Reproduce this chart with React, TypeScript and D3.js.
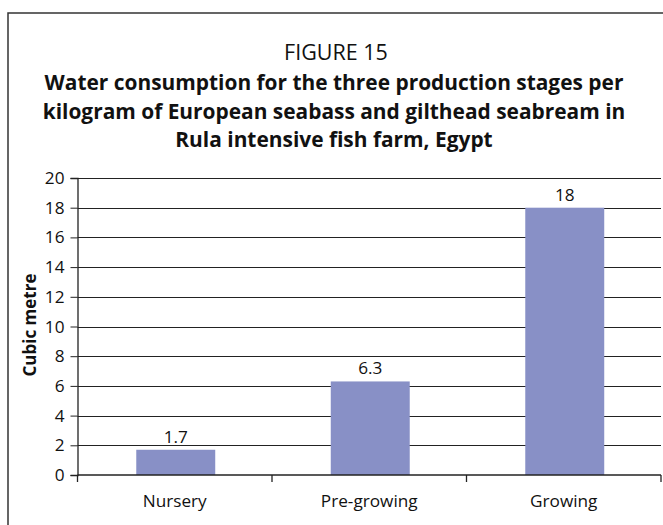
import React, { useEffect, useRef } from "react";
import * as d3 from "d3";

const categories = ["Nursery", "Pre-growing", "Growing"];
const values = [1.7, 6.3, 18];
const valueLabels = ["1.7", "6.3", "18"];
const yTicks = [0, 2, 4, 6, 8, 10, 12, 14, 16, 18, 20];
const titleLines = [
  "Water consumption for the three production stages per",
  "kilogram of European seabass and gilthead seabream in",
  "Rula intensive fish farm, Egypt",
];

const W = 663;
const H = 525;
const FONT = "'Open Sans', 'Noto Sans', sans-serif";
const plot = { left: 77.5, right: 661, top: 178, bottom: 475 };
const LBL = 17.2;

export default function App() {
  const xAxisRef = useRef<SVGGElement>(null);
  const yAxisRef = useRef<SVGGElement>(null);

  const x = d3.scaleBand<string>().domain(categories).range([plot.left, plot.right]).padding(0);
  const y = d3.scaleLinear().domain([0, 20]).range([plot.bottom, plot.top]);
  const barW = x.bandwidth() * 0.406;

  useEffect(() => {
    if (yAxisRef.current) {
      const g = d3.select(yAxisRef.current);
      g.selectAll("*").remove();
      g.call(d3.axisLeft(y).tickValues(yTicks).tickSize(7).tickPadding(6).tickFormat(d3.format("d")) as any);
      g.select(".domain").attr("stroke", "#222").attr("stroke-width", 1.3);
      g.selectAll(".tick line").attr("stroke", "#222");
      g.selectAll(".tick text")
        .attr("font-family", FONT)
        .attr("font-size", LBL)
        .attr("fill", "#111");
    }
    if (xAxisRef.current) {
      const g = d3.select(xAxisRef.current);
      g.selectAll("*").remove();
      g.call(d3.axisBottom(x).tickSize(0).tickPadding(0) as any);
      g.select(".domain").remove();
      g.selectAll(".tick text").remove();
      const bounds = [plot.left, ...categories.map((c) => (x(c) as number) + x.bandwidth())];
      g.selectAll("line.bound")
        .data(bounds)
        .enter()
        .append("line")
        .attr("class", "bound")
        .attr("x1", (d) => d)
        .attr("x2", (d) => d)
        .attr("y1", 0)
        .attr("y2", 7)
        .attr("stroke", "#222")
        .attr("stroke-width", 1.3);
      g.append("line")
        .attr("x1", plot.left)
        .attr("x2", plot.right)
        .attr("y1", 0)
        .attr("y2", 0)
        .attr("stroke", "#222")
        .attr("stroke-width", 1.5);
      g.selectAll("text.cat")
        .data(categories)
        .enter()
        .append("text")
        .attr("class", "cat")
        .attr("x", (d) => (x(d) as number) + x.bandwidth() / 2)
        .attr("y", 32)
        .attr("text-anchor", "middle")
        .attr("font-family", FONT)
        .attr("font-size", LBL)
        .attr("fill", "#111")
        .text((d) => d);
    }
  });

  return (
    <svg
      width={W}
      height={H}
      style={{ position: "absolute", left: 0, top: 0, background: "#fff" }}
    >
      <rect x={8} y={13} width={W + 10} height={H + 10} fill="#fff" stroke="#333" strokeWidth={1.5} />
      <text x={336} y={60} textAnchor="middle" fontFamily={FONT} fontSize={21.5} fill="#111">
        FIGURE 15
      </text>
      {titleLines.map((t, i) => (
        <text
          key={i}
          x={334}
          y={90 + i * 28.5}
          textAnchor="middle"
          fontFamily={FONT}
          fontWeight="bold"
          fontSize={20.9}
          fill="#111"
        >
          {t}
        </text>
      ))}
      {yTicks
        .filter((t) => t > 0)
        .map((t) => (
          <line
            key={t}
            x1={plot.left}
            x2={plot.right}
            y1={Math.round(y(t)) + 0.5}
            y2={Math.round(y(t)) + 0.5}
            stroke="#222"
            strokeWidth={1}
          />
        ))}
      {categories.map((c, i) => {
        const cx = (x(c) as number) + x.bandwidth() / 2 + 1;
        return (
          <g key={c}>
            <rect
              x={cx - barW / 2}
              y={y(values[i])}
              width={barW}
              height={y(0) - y(values[i])}
              fill="#8890C6"
            />
            <text
              x={cx}
              y={y(values[i]) - 7}
              textAnchor="middle"
              fontFamily={FONT}
              fontSize={LBL}
              fill="#111"
            >
              {valueLabels[i]}
            </text>
          </g>
        );
      })}
      <g ref={yAxisRef} transform={`translate(${plot.left},0)`} />
      <g ref={xAxisRef} transform={`translate(0,${plot.bottom})`} />
      <text
        transform={`translate(36,325) rotate(-90)`}
        textAnchor="middle"
        fontFamily={FONT}
        fontWeight="bold"
        fontSize={17}
        fill="#111"
      >
        Cubic metre
      </text>
    </svg>
  );
}
